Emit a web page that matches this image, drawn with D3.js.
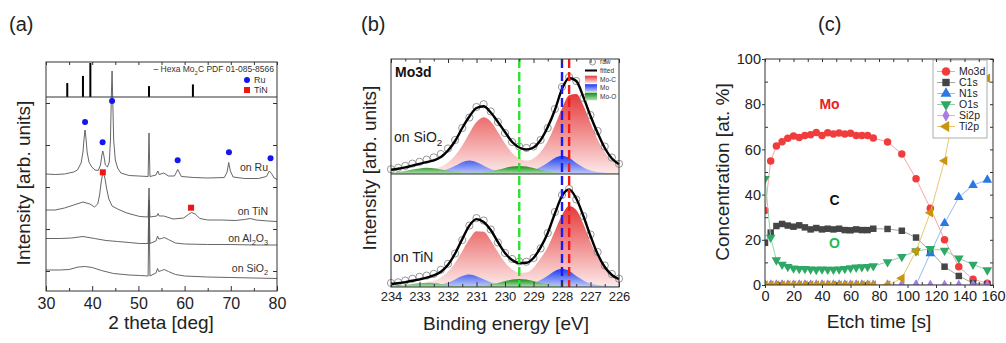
<!DOCTYPE html>
<html><head><meta charset="utf-8">
<script src="https://cdn.jsdelivr.net/npm/d3@7"></script>
<style>body{margin:0;background:#fff;} svg{font-family:"Liberation Sans", Arial, sans-serif;}</style>
</head><body><svg id="c" width="1006" height="343"></svg>
<script>
// ================= DATA =================
// Panel (a) XRD: [2theta, intensity (arb.)]
const xrdRu = [[30,117],[32,116.5],[34,117],[36,119],[36.8,121],[37.6,128],[38.0,139],[38.25,153],[38.45,161],[38.65,153],[38.9,139],[39.3,129],[39.9,124],[40.6,121],[41.3,120.5],[41.8,126],[42.1,136],[42.3,140],[42.5,136],[42.85,126],[43.3,124],[43.7,129],[43.95,151],[44.15,196],[44.3,220],[44.45,191],[44.65,151],[45.0,131],[45.5,123],[46.2,118],[48,115.5],[50,115],[52.1,114.5],[52.3,158],[52.5,114.5],[53.8,116],[54.2,120],[54.5,116.5],[55.5,118],[56.5,115],[57.8,115],[58.2,118.5],[58.5,121.5],[58.8,119],[59.3,114.5],[62,113.5],[65,113],[68.6,113.5],[69.2,119],[69.55,128.5],[69.9,120],[70.5,114],[73,112.5],[76,112.5],[77.7,114.5],[78.35,120],[78.8,117.5],[79.4,113],[80,111.5]];
const xrdTiN = [[30,81],[32,81],[34,83],[36,86],[38,89],[39.5,87],[40.5,84],[41.2,87],[41.6,96],[41.95,109],[42.25,117],[42.45,118],[42.75,113],[43.1,103],[43.6,92],[44.3,85],[45.5,82],[47.5,78],[50.3,74.5],[52.1,74],[52.3,103],[52.5,74],[54,75],[54.25,77.5],[54.5,75],[55.5,75],[57.5,72],[59.8,73],[60.8,76.5],[61.5,78.5],[62.3,77],[63.3,72.5],[65,71],[68,71],[71,70.5],[73,71.5],[74.2,72.5],[75.5,71],[78,70],[80,69.5]];
const xrdAl2O3 = [[30,52.5],[33,52.5],[35.5,53],[38,54.5],[40.5,52.5],[43,50.5],[45.5,49.5],[48,48.5],[50.3,47.5],[52.1,47.5],[52.3,91],[52.5,47.5],[53.8,50],[54.15,55],[54.4,52],[55.0,52.5],[55.6,53.5],[56.5,51.5],[58,48],[60,47],[65,46.5],[70,46.5],[75,46],[80,46]];
const xrdSiO2 = [[30,21],[33,21],[35,21.5],[37,24],[38.5,24.5],[40,23.5],[42,20.5],[44.6,17.5],[48,16],[50.3,15.5],[52.1,15],[52.3,86],[52.5,15],[53.8,18],[54.15,22.5],[54.4,19.5],[55.0,20.5],[55.6,21.5],[56.5,19.5],[58,16.5],[60,15],[65,14],[70,13.5],[75,13],[80,12.5]];
const refPos = [34.6, 38.0, 39.6, 52.3, 61.8];
const refInt = [41, 62, 100, 32, 37];
const ruMarks = [[38.45,169],[42.25,148.7],[44.3,190],[58.5,130.7],[69.6,138.7],[78.6,132.7]];
const tinMarks = [[42.3,118.7],[61.4,83.3]];
const xTicksA = [30,40,50,60,70,80];
const xMinorA = [35,45,55,65,75];
const yTicksA = [20,62,104,146,188];
const traceLabelsA = ["on Ru","on TiN","on Al_2O_3","on SiO_2"];
const traceLabelY = [170.5,214.5,242,272];

// Panel (b) XPS Mo3d
const be = [234,233.75,233.5,233.25,233,232.75,232.5,232.25,232,231.75,231.5,231.25,231,230.75,230.5,230.25,230,229.75,229.5,229.25,229,228.75,228.5,228.25,228,227.75,227.5,227.25,227,226.75,226.5,226.25,226];
const fitTop = [4.3,5.2,6.6,8.4,10.2,11.9,13.6,17,23.5,33,46,57.5,66,67.8,61.5,52,42,32,26.5,24.5,26.5,34,47,64,85,96,93,77,58,41,26,15.5,9.7];
const rawTop = [4.8,6.2,8.1,10.4,12.2,14.4,16.6,20,25.5,34,46,56.5,67,69.8,62.5,52,41,32,27.5,26,27.5,34,46,65,87,97,93,76,59,43,27.5,16.5,10.2];
const mocTop = [1.6,1.8,2.0,2.4,2.9,3.7,4.9,7.2,11.6,18.5,28.6,40.8,51.9,56.7,52.4,41.9,30.4,21.1,15.6,13.5,15.6,22.0,33.1,48.6,65.8,78.7,80.0,68.5,51.1,34.5,21.7,13.2,8.4];
const moTop = [0.4,0.4,0.5,0.6,0.7,1.0,1.6,2.7,4.9,8.2,11.8,13.4,11.7,8.3,5.1,3.0,2.0,1.7,1.8,2.3,3.8,6.9,11.3,16.0,18.2,16.0,11.1,6.6,3.4,1.9,1.2,0.8,0.6];
const mooTop = [1.3,2.0,3.1,4.4,5.6,6.2,5.7,4.5,3.3,2.2,1.6,1.3,1.4,1.8,2.8,4.2,6.0,7.5,8.1,7.5,5.9,4.0,2.6,1.5,1.0,0.6,0.4,0.3,0.3,0.2,0.2,0.2,0.2];
const fitBot = [3.0,3.7,4.9,6.2,7.7,9.4,11.6,15.2,22.2,33.5,47.9,61.4,67.9,65,57,45,34,27,24,24.3,29,39.6,54,73.5,91,97.6,88.5,71,51,33,20,12,7.8];
const rawBot = [4,4.7,6.4,8.2,10.2,11.4,13.1,17.2,23.2,33.5,46.9,61.4,68.9,66.5,57.5,44.5,34,28,25.5,25.3,29,38.6,54,75,92,98.1,87.5,71,52.5,35,21.5,13,8.3];
const mocBot = [1.7,1.9,2.3,2.7,3.3,4.3,6.2,9.6,15.4,24.3,35.8,47.9,55.8,55.2,46.5,34.9,24.6,17.4,14.1,14.5,19.3,28.7,40,56,72,81,77,63,45,30,18.5,11,7];
const moBot = [0.4,0.4,0.5,0.5,0.6,0.9,1.5,2.5,4.5,7.6,10.9,12.4,10.8,7.7,4.7,2.8,1.9,1.6,1.8,2.3,3.8,6.9,11.3,16.0,18.2,16.0,11.1,6.6,3.4,1.9,1.2,0.8,0.6];
const mooBot = [0.9,1.4,2.1,3.0,3.8,4.2,3.9,3.1,2.3,1.6,1.2,1.1,1.3,1.7,2.8,4.1,5.9,7.5,8.1,7.5,5.9,4.0,2.6,1.5,1.0,0.6,0.4,0.3,0.3,0.2,0.2,0.2,0.2];
const dashBE = [229.5, 228.0, 227.75];
const xTicksB = [234,233,232,231,230,229,228,227,226];
const xMinorB = [233.5,232.5,231.5,230.5,229.5,228.5,227.5,226.5];
const legendB = ["raw","fitted","Mo-C","Mo","Mo-O"];

// Panel (c) depth profile
const etch = [0,4,8,12,16,20,24,28,32,36,40,44,48,52,56,60,64,68,72,76,86,96,106,116,126,136,146,156];
const mo3d = [33,54.9,61.5,63.4,64.9,65.9,65.3,66.2,66.5,67.5,66.2,67.4,66.8,67.3,66.8,67.1,66.2,66.2,66.2,65.0,63.3,58,47,34,20,8.1,2.5,0.8];
const c1s  = [18.7,23.2,26.1,27,26.3,25.8,26.4,25.5,24.6,25.2,24.6,24.9,24.6,24.9,24.3,24.2,24.6,24.3,24.3,24.9,24.8,24.0,21.0,15.0,8.1,4.0,0.8,0.3];
const n1s  = [0,0,0,0,0,0,0,0,0,0,0,0,0,0,0,0,0,0,0,0,0,0,0,14,27.3,38.8,44.2,46.5];
const o1s  = [47,21,11,9.1,8.1,7.4,7.2,7.2,7.0,6.8,7.0,6.9,6.9,7.0,7.2,7.5,7.8,8.0,8.1,8.4,10.2,12.5,15,16,15.3,11.8,9.1,6.6];
const si2p = [0,0,0,0,0,0,0,0,0,0,0,0,0,0,0,0,0,0,0,0,0,0,0,0,0,0,0,0];
const ti2p = [0,0,0,0,0,0,0,0,0,0,0,0,0,0,0,0,0,0,0,0,0,3,15,32,55,88,92,91.5];
const seriesNames = ["Mo3d","C1s","N1s","O1s","Si2p","Ti2p"];
const xTicksC = [0,20,40,60,80,100,120,140,160];
const xMinorC = [10,30,50,70,90,110,130,150];
const yTicksC = [0,20,40,60,80,100];
const yMinorC = [10,30,50,70,90];

// ================= DRAW =================
const FONT = '"Liberation Sans", Arial, sans-serif';
const svg = d3.select('#c');
const defs = svg.append('defs');

function subText(g, x, y, str, size, anchor, fill, weight) {
  const t = g.append('text').attr('x', x).attr('y', y).attr('font-size', size)
    .attr('text-anchor', anchor || 'start').attr('fill', fill || '#222');
  if (weight) t.attr('font-weight', weight);
  const parts = str.split(/(_\d)/).filter(s => s.length);
  let shift = 0;
  parts.forEach(p => {
    const sub = p.startsWith('_');
    const txt = sub ? p.slice(1) : p;
    const dy = sub ? size * 0.3 - shift : -shift;
    t.append('tspan').attr('dy', dy).attr('font-size', sub ? size * 0.7 : size).text(txt);
    shift = sub ? size * 0.3 : 0;
  });
  return t;
}
function styleAxis(g, fs) {
  g.attr('font-family', FONT).attr('font-size', fs);
  g.select('.domain').remove();
  g.selectAll('.tick line').attr('stroke', '#333');
  g.selectAll('.tick text').attr('fill', '#222');
}
function frame(g, x0, x1, y0, y1) {
  g.append('rect').attr('x', x0).attr('y', y0).attr('width', x1 - x0).attr('height', y1 - y0)
    .attr('fill', 'none').attr('stroke', '#333').attr('stroke-width', 1);
}

// ---------- Panel (a) ----------
const gA = svg.append('g');
const xA = d3.scaleLinear().domain([30, 80]).range([46, 277]);
const yA = d3.scaleLinear().domain([0, 229]).range([291, 62]);
const yRef = d3.scaleLinear().domain([0, 100]).range([97, 63]);

gA.append('text').attr('x', 9).attr('y', 31).attr('font-size', 20).attr('fill', '#222').text('(a)');

// reference sticks
gA.selectAll('.stick').data(refPos).enter().append('line')
  .attr('x1', d => xA(d)).attr('x2', d => xA(d))
  .attr('y1', yRef(0)).attr('y2', (d, i) => yRef(refInt[i]))
  .attr('stroke', '#000').attr('stroke-width', 2);

const lineA = d3.line().x(d => xA(d[0])).y(d => yA(d[1]));
[xrdSiO2, xrdAl2O3, xrdTiN, xrdRu].forEach(tr => {
  gA.append('path').attr('d', lineA(tr)).attr('fill', 'none').attr('stroke', '#555').attr('stroke-width', 0.9);
});

// frame & divider
frame(gA, 46, 277, 62, 291);
gA.append('line').attr('x1', 46).attr('x2', 277).attr('y1', yRef(0)).attr('y2', yRef(0)).attr('stroke', '#333');

// markers
gA.selectAll('.ru').data(ruMarks).enter().append('circle')
  .attr('cx', d => xA(d[0])).attr('cy', d => yA(d[1])).attr('r', 3).attr('fill', '#1515f0');
gA.selectAll('.tin').data(tinMarks).enter().append('rect')
  .attr('x', d => xA(d[0]) - 3).attr('y', d => yA(d[1]) - 3).attr('width', 6).attr('height', 6).attr('fill', '#ee1515');

// inset legend
subText(gA, 274, 72, '\u2013 Hexa Mo_2C PDF 01-085-8566', 8.5, 'end', '#333');
gA.append('circle').attr('cx', 247).attr('cy', 80).attr('r', 3).attr('fill', '#1515f0');
gA.append('text').attr('x', 254).attr('y', 83).attr('font-size', 9).attr('fill', '#333').text('Ru');
gA.append('rect').attr('x', 244).attr('y', 87).attr('width', 6).attr('height', 6).attr('fill', '#ee1515');
gA.append('text').attr('x', 254).attr('y', 93).attr('font-size', 9).attr('fill', '#333').text('TiN');

// trace labels
traceLabelsA.forEach((s, i) => subText(gA, 268, traceLabelY[i], s, 10.5, 'end', '#333'));

// axes
styleAxis(gA.append('g').attr('transform', 'translate(0,291)')
  .call(d3.axisBottom(xA).tickValues(xTicksA).tickSize(-5).tickPadding(6.5).tickFormat(d3.format('d'))), 16);
styleAxis(gA.append('g').attr('transform', 'translate(0,291)')
  .call(d3.axisBottom(xA).tickValues(xMinorA).tickSize(-3).tickFormat('')), 10);
styleAxis(gA.append('g').attr('transform', 'translate(0,62)')
  .call(d3.axisTop(xA).tickValues(xTicksA.concat(xMinorA)).tickSize(-3).tickFormat('')), 10);
styleAxis(gA.append('g').attr('transform', 'translate(46,0)')
  .call(d3.axisLeft(yA).tickValues(yTicksA).tickSize(-4).tickFormat('')), 10);
styleAxis(gA.append('g').attr('transform', 'translate(277,0)')
  .call(d3.axisRight(yA).tickValues(yTicksA).tickSize(-4).tickFormat('')), 10);

gA.append('text').attr('x', 161).attr('y', 329).attr('text-anchor', 'middle').attr('font-size', 19).attr('fill', '#222').text('2 theta [deg]');
gA.append('text').attr('transform', 'translate(30,183) rotate(-90)').attr('text-anchor', 'middle').attr('font-size', 19).attr('fill', '#222').text('Intensity [arb. units]');

// ---------- Panel (b) ----------
const gB = svg.append('g');
const xB = d3.scaleLinear().domain([234, 226]).range([391, 619]);
const yB1 = d3.scaleLinear().domain([0, 115]).range([174, 59]);
const yB2 = d3.scaleLinear().domain([0, 113]).range([287, 174]);

gB.append('text').attr('x', 361).attr('y', 31).attr('font-size', 20).attr('fill', '#222').text('(b)');

function grad(id, c0, c1) {
  const lg = defs.append('linearGradient').attr('id', id).attr('x1', 0).attr('y1', 0).attr('x2', 0).attr('y2', 1);
  lg.append('stop').attr('offset', '0%').attr('stop-color', c0);
  lg.append('stop').attr('offset', '100%').attr('stop-color', c1);
}
grad('gRed', '#e53a3a', '#fdeaea');
grad('gBlue', '#1c3cf0', '#c2cbf8');
grad('gGreen', '#158a15', '#b2e2b2');

function xpsPanel(y, fit, raw, moc, mo, moo) {
  const area = arr => d3.area().curve(d3.curveMonotoneX).x((d, i) => xB(be[i])).y0(y(0)).y1((d, i) => y(arr[i]))(arr);
  gB.append('path').attr('d', area(moc)).attr('fill', 'url(#gRed)');
  gB.append('path').attr('d', area(mo)).attr('fill', 'url(#gBlue)');
  gB.append('path').attr('d', area(moo)).attr('fill', 'url(#gGreen)');
  gB.append('g').selectAll('circle').data(raw).enter().append('circle')
    .attr('cx', (d, i) => xB(be[i])).attr('cy', d => y(d)).attr('r', 3.6)
    .attr('fill', 'none').attr('stroke', '#8a8a8a').attr('stroke-width', 0.9);
  const ln = d3.line().curve(d3.curveMonotoneX).x((d, i) => xB(be[i])).y(d => y(d));
  gB.append('path').attr('d', ln(fit)).attr('fill', 'none').attr('stroke', '#000').attr('stroke-width', 2.4);
}
xpsPanel(yB1, fitTop, rawTop, mocTop, moTop, mooTop);
xpsPanel(yB2, fitBot, rawBot, mocBot, moBot, mooBot);

const dashColors = ['#2fe02f', '#1a1af2', '#f21a1a'];
dashBE.forEach((v, i) => {
  gB.append('line').attr('x1', xB(v)).attr('x2', xB(v)).attr('y1', 59).attr('y2', 287)
    .attr('stroke', dashColors[i]).attr('stroke-width', 2.4).attr('stroke-dasharray', '9,4');
});

frame(gB, 391, 619, 59, 287);
gB.append('line').attr('x1', 391).attr('x2', 619).attr('y1', 174).attr('y2', 174).attr('stroke', '#333');

// legend
const lgB = gB.append('g').attr('font-size', 6.5).attr('fill', '#333');
const lgY = [62, 70.5, 79.5, 88, 96.5];
lgB.append('circle').attr('cx', 592.5).attr('cy', lgY[0]).attr('r', 3).attr('fill', '#fff').attr('stroke', '#777').attr('stroke-width', 0.8);
lgB.append('line').attr('x1', 585).attr('x2', 597).attr('y1', lgY[1]).attr('y2', lgY[1]).attr('stroke', '#000').attr('stroke-width', 2);
['gRed', 'gBlue', 'gGreen'].forEach((g, i) => {
  lgB.append('rect').attr('x', 585).attr('y', lgY[i + 2] - 3.8).attr('width', 12).attr('height', 7.6).attr('fill', 'url(#' + g + ')');
});
legendB.forEach((s, i) => lgB.append('text').attr('x', 600).attr('y', lgY[i] + 2.3).text(s));

gB.append('text').attr('x', 395).attr('y', 77).attr('font-size', 14).attr('font-weight', 'bold').attr('fill', '#111').text('Mo3d');
subText(gB, 394, 142, 'on SiO_2', 14, 'start', '#222');
subText(gB, 393, 262, 'on TiN', 14, 'start', '#222');

styleAxis(gB.append('g').attr('transform', 'translate(0,287)')
  .call(d3.axisBottom(xB).tickValues(xTicksB).tickSize(-5).tickPadding(5).tickFormat(d3.format('d'))), 13);
styleAxis(gB.append('g').attr('transform', 'translate(0,287)')
  .call(d3.axisBottom(xB).tickValues(xMinorB).tickSize(-3).tickFormat('')), 10);
styleAxis(gB.append('g').attr('transform', 'translate(0,59)')
  .call(d3.axisTop(xB).tickValues(xTicksB).tickSize(-4).tickFormat('')), 10);
styleAxis(gB.append('g').attr('transform', 'translate(0,59)')
  .call(d3.axisTop(xB).tickValues(xMinorB).tickSize(-2.5).tickFormat('')), 10);

gB.append('text').attr('x', 506).attr('y', 330).attr('text-anchor', 'middle').attr('font-size', 19).attr('fill', '#222').text('Binding energy [eV]');
gB.append('text').attr('transform', 'translate(376,168) rotate(-90)').attr('text-anchor', 'middle').attr('font-size', 19).attr('fill', '#222').text('Intensity [arb. units]');

// ---------- Panel (c) ----------
const gC = svg.append('g');
const xC = d3.scaleLinear().domain([0, 160]).range([765, 993]);
const yC = d3.scaleLinear().domain([0, 100]).range([285, 59]);

gC.append('text').attr('x', 818).attr('y', 31).attr('font-size', 20).attr('fill', '#222').text('(c)');

defs.append('clipPath').attr('id', 'clipC').append('rect').attr('x', 765).attr('y', 59).attr('width', 228).attr('height', 226);

const seriesData = [mo3d, c1s, n1s, o1s, si2p, ti2p];
const symTypes = [d3.symbolCircle, d3.symbolSquare, d3.symbolTriangle, d3.symbolTriangle, d3.symbolDiamond, d3.symbolTriangle];
const symRot = [0, 0, 0, 180, 0, -90];
const symSize = [44, 42, 40, 40, 34, 40];
const symFill = ['#f03c3c', '#454545', '#2a78e6', '#2ea865', '#a87de0', '#c8950c'];
const lineCol = ['#f5a5a5', '#a5a5a5', '#96bbf0', '#93d3ab', '#cfb8f0', '#e8c772'];

const plotC = gC.append('g').attr('clip-path', 'url(#clipC)');
const lnC = d3.line().x((d, i) => xC(etch[i])).y(d => yC(d));
seriesData.forEach((arr, k) => {
  plotC.append('path').attr('d', lnC(arr)).attr('fill', 'none').attr('stroke', lineCol[k]).attr('stroke-width', 1);
  plotC.append('g').selectAll('path').data(arr).enter().append('path')
    .attr('d', d3.symbol().type(symTypes[k]).size(symSize[k]))
    .attr('transform', (d, i) => `translate(${xC(etch[i])},${yC(d)}) rotate(${symRot[k]})`)
    .attr('fill', symFill[k]);
});

frame(gC, 765, 993, 59, 285);

// legend
const lgC = gC.append('g');
lgC.append('rect').attr('x', 933).attr('y', 60).attr('width', 54).attr('height', 78).attr('fill', '#fff').attr('stroke', '#999').attr('stroke-width', 0.8);
seriesNames.forEach((s, k) => {
  const yy = 71.5 + k * 11;
  lgC.append('line').attr('x1', 937).attr('x2', 955).attr('y1', yy).attr('y2', yy).attr('stroke', lineCol[k]).attr('stroke-width', 1);
  lgC.append('path').attr('d', d3.symbol().type(symTypes[k]).size(symSize[k] * 1.3)())
    .attr('transform', `translate(946,${yy}) rotate(${symRot[k]})`).attr('fill', symFill[k]);
  lgC.append('text').attr('x', 959).attr('y', yy + 3.6).attr('font-size', 10.5).attr('fill', '#222').text(s);
});

gC.append('text').attr('x', 829.5).attr('y', 109).attr('text-anchor', 'middle').attr('font-size', 14).attr('font-weight', 'bold').attr('fill', '#e82020').text('Mo');
gC.append('text').attr('x', 834.5).attr('y', 205).attr('text-anchor', 'middle').attr('font-size', 14).attr('font-weight', 'bold').attr('fill', '#111').text('C');
gC.append('text').attr('x', 834.5).attr('y', 248).attr('text-anchor', 'middle').attr('font-size', 14).attr('font-weight', 'bold').attr('fill', '#1fbb55').text('O');

styleAxis(gC.append('g').attr('transform', 'translate(0,285)')
  .call(d3.axisBottom(xC).tickValues(xTicksC).tickSize(3).tickPadding(3).tickFormat(d3.format('d'))), 14.5);
styleAxis(gC.append('g').attr('transform', 'translate(0,285)')
  .call(d3.axisBottom(xC).tickValues(xMinorC).tickSize(-3).tickFormat('')), 10);
styleAxis(gC.append('g').attr('transform', 'translate(765,0)')
  .call(d3.axisLeft(yC).tickValues(yTicksC).tickSize(3).tickPadding(1).tickFormat(d3.format('d'))), 14.5);
styleAxis(gC.append('g').attr('transform', 'translate(765,0)')
  .call(d3.axisLeft(yC).tickValues(yMinorC).tickSize(-3).tickFormat('')), 10);
styleAxis(gC.append('g').attr('transform', 'translate(0,59)')
  .call(d3.axisTop(xC).tickValues(xTicksC.concat(xMinorC)).tickSize(-3).tickFormat('')), 10);
styleAxis(gC.append('g').attr('transform', 'translate(993,0)')
  .call(d3.axisRight(yC).tickValues(yTicksC.concat(yMinorC)).tickSize(-3).tickFormat('')), 10);

gC.append('text').attr('x', 879).attr('y', 327.5).attr('text-anchor', 'middle').attr('font-size', 19).attr('fill', '#222').text('Etch time [s]');
gC.append('text').attr('transform', 'translate(729,172) rotate(-90)').attr('text-anchor', 'middle').attr('font-size', 19).attr('fill', '#222').text('Concentration [at. %]');
</script></body></html>
